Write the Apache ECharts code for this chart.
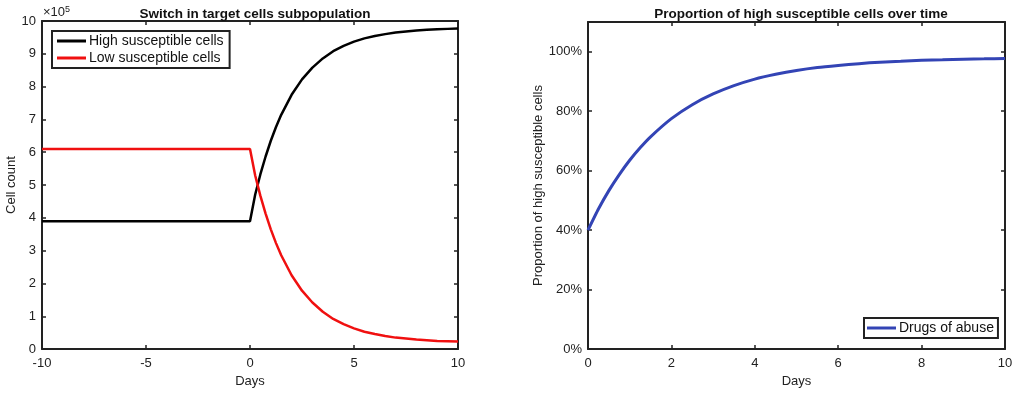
<!DOCTYPE html>
<html>
<head>
<meta charset="utf-8">
<script src="https://cdn.jsdelivr.net/npm/echarts@6/dist/echarts.min.js"></script>
<style>html,body{margin:0;padding:0;background:#fff}#c{width:1018px;height:393px}</style>
</head>
<body>
<div id="c"></div>
<script>
// ---- data ----
const leftDays  = [-10, 0, 0.25, 0.5, 0.75, 1, 1.25, 1.5, 2, 2.5, 3, 3.5, 4, 4.5, 5, 5.5, 6, 6.5, 7, 7.5, 8, 8.5, 9, 9.5, 10];
const highCells = [3.9, 3.9, 4.71, 5.33, 5.87, 6.35, 6.77, 7.14, 7.75, 8.22, 8.58, 8.86, 9.08, 9.24, 9.37, 9.47, 9.54, 9.60, 9.65, 9.68, 9.71, 9.73, 9.75, 9.76, 9.77];
const lowCells  = [6.1, 6.1, 5.29, 4.67, 4.13, 3.65, 3.23, 2.86, 2.25, 1.78, 1.42, 1.14, 0.92, 0.76, 0.63, 0.53, 0.46, 0.40, 0.35, 0.32, 0.29, 0.27, 0.25, 0.24, 0.23];
const propDays  = [0, 0.25, 0.5, 0.75, 1, 1.25, 1.5, 2, 2.5, 3, 3.5, 4, 4.5, 5, 5.5, 6, 6.5, 7, 7.5, 8, 8.5, 9, 9.5, 10];
const propHigh  = [0.40, 0.471, 0.533, 0.587, 0.635, 0.677, 0.714, 0.775, 0.822, 0.858, 0.886, 0.908, 0.924, 0.937, 0.947, 0.954, 0.960, 0.965, 0.968, 0.971, 0.973, 0.975, 0.976, 0.977];
const leftTitle = 'Switch in target cells subpopulation';
const rightTitle = 'Proportion of high susceptible cells over time';
const seriesNames = ['High susceptible cells', 'Low susceptible cells', 'Drugs of abuse'];

const FONT = '"Liberation Sans", Arial, Helvetica, sans-serif';
const AX = '#222';
const zip = (xs, ys) => xs.map((x, i) => [x, ys[i]]);

function xAx(grid, min, max, interval, pos, showLabel, name) {
  return {
    type: 'value', gridIndex: grid, min, max, interval, position: pos,
    name: name || '', nameLocation: 'middle', nameGap: 25,
    nameTextStyle: { color: '#222', fontSize: 13, fontFamily: FONT },
    axisLine: { show: true, onZero: false, lineStyle: { color: AX, width: 2 } },
    axisTick: { show: true, inside: true, length: 4, lineStyle: { color: AX, width: 1.5 } },
    axisLabel: { show: showLabel, color: '#222', fontSize: 13, fontFamily: FONT, margin: 8 },
    splitLine: { show: false }
  };
}
function yAx(grid, min, max, interval, pos, showLabel, name, fmt, gap) {
  return {
    type: 'value', gridIndex: grid, min, max, interval, position: pos,
    name: name || '', nameLocation: 'middle', nameGap: gap || 24,
    nameTextStyle: { color: '#222', fontSize: 13, fontFamily: FONT },
    axisLine: { show: true, onZero: false, lineStyle: { color: AX, width: 2 } },
    axisTick: { show: true, inside: true, length: 4, lineStyle: { color: AX, width: 1.5 } },
    axisLabel: { show: showLabel, color: '#222', fontSize: 13, fontFamily: FONT, margin: 6,
      formatter: fmt, showMaxLabel: max === 10 },
    splitLine: { show: false }
  };
}

const chart = echarts.init(document.getElementById('c'), null, { renderer: 'canvas' });
chart.setOption({
  backgroundColor: '#fff',
  animation: false,
  title: [
    { text: leftTitle, left: 250, top: 2, textAlign: 'center',
      textStyle: { fontSize: 13.5, fontWeight: 'bold', color: '#111', fontFamily: FONT } },
    { text: rightTitle, left: 796, top: 2, textAlign: 'center',
      textStyle: { fontSize: 13.5, fontWeight: 'bold', color: '#111', fontFamily: FONT } }
  ],
  grid: [
    { left: 42, right: 560, top: 21, bottom: 40, containLabel: false },
    { left: 588, right: 13, top: 22, bottom: 40, containLabel: false }
  ],
  xAxis: [
    xAx(0, -10, 10, 5, 'bottom', true, 'Days'),
    xAx(0, -10, 10, 5, 'top', false),
    xAx(1, 0, 10, 2, 'bottom', true, 'Days'),
    xAx(1, 0, 10, 2, 'top', false)
  ],
  yAxis: [
    yAx(0, 0, 10, 1, 'left', true, 'Cell count', null, 22),
    yAx(0, 0, 10, 1, 'right', false),
    yAx(1, 0, 1.1, 0.2, 'left', true, 'Proportion of high susceptible cells', v => Math.round(v * 100) + '%', 42),
    yAx(1, 0, 1.1, 0.2, 'right', false)
  ],
  legend: [
    { data: [seriesNames[0], seriesNames[1]], orient: 'vertical', left: 52, top: 31,
      icon: 'rect', itemWidth: 29, itemHeight: 3, itemGap: 3, padding: [3, 6, 3, 5],
      borderColor: AX, borderWidth: 2, backgroundColor: '#fff',
      textStyle: { fontSize: 14, color: '#111', fontFamily: FONT, padding: [0, 0, 0, -2] } },
    { data: [seriesNames[2]], orient: 'vertical', left: 864, top: 318,
      icon: 'rect', itemWidth: 29, itemHeight: 3, padding: [3, 4, 3, 3],
      borderColor: AX, borderWidth: 2, backgroundColor: '#fff',
      textStyle: { fontSize: 14, color: '#111', fontFamily: FONT, padding: [0, 0, 0, -2] } }
  ],
  graphic: [
    { type: 'text', left: 43, top: 5,
      style: { text: '×10{s|5}', fill: '#222', fontSize: 13, fontFamily: FONT,
        rich: { s: { fontSize: 9, verticalAlign: 'top', padding: [0, 0, 6, 0], fill: '#222', fontFamily: FONT } } } }
  ],
  series: [
    { name: seriesNames[0], type: 'line', xAxisIndex: 0, yAxisIndex: 0, data: zip(leftDays, highCells),
      showSymbol: false, symbol: 'none', lineStyle: { color: '#000', width: 2.5 }, itemStyle: { color: '#000' } },
    { name: seriesNames[1], type: 'line', xAxisIndex: 0, yAxisIndex: 0, data: zip(leftDays, lowCells),
      showSymbol: false, symbol: 'none', lineStyle: { color: '#f01010', width: 2.5 }, itemStyle: { color: '#f01010' } },
    { name: seriesNames[2], type: 'line', xAxisIndex: 2, yAxisIndex: 2, data: zip(propDays, propHigh),
      showSymbol: false, symbol: 'none', smooth: 0.2, lineStyle: { color: '#3344b5', width: 3 }, itemStyle: { color: '#3344b5' } }
  ]
});
</script>
</body>
</html>
